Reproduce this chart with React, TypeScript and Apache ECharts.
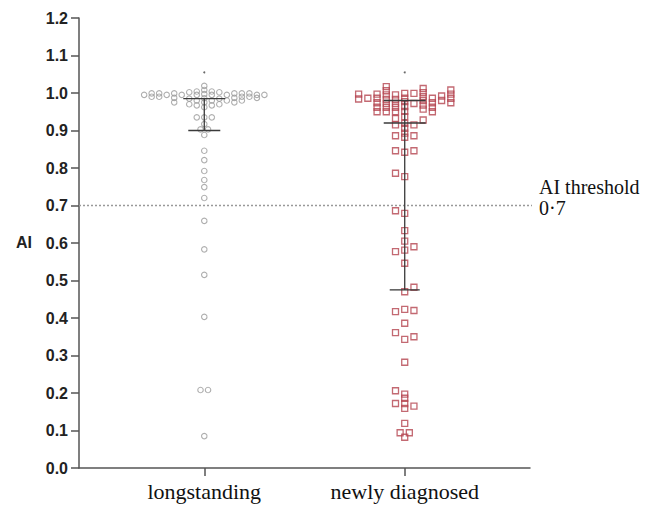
import React, { useEffect, useRef } from "react";
import * as echarts from "echarts";

// ---- data ----
const categories = ["longstanding", "newly diagnosed"];
const categoryPositions = [1, 2.6];
const yTicks = [0, 0.1, 0.2, 0.3, 0.4, 0.5, 0.6, 0.7, 0.8, 0.9, 1.0, 1.1, 1.2];
const threshold = 0.7;

// [lane, AI] : lane = horizontal beeswarm slot
const longstandingPoints: [number, number][] = [
  [0, 1.019], [0, 1.008], [0, 0.997], [0, 0.986], [0, 0.975], [0, 0.962], [0, 0.935], [0, 0.917], [0, 0.888],
  [-1, 1.004], [-1, 0.995], [-1, 0.98], [-1, 0.967], [-1, 0.935],
  [1, 1.004], [1, 0.995], [1, 0.98], [1, 0.967], [1, 0.935],
  [-2, 1.002], [-2, 0.985], [-2, 0.97],
  [2, 1.002], [2, 0.985], [2, 0.97],
  [-3, 0.995], [3, 0.995], [3, 0.98],
  [-4, 0.999], [-4, 0.987], [-4, 0.975],
  [4, 0.999], [4, 0.987], [4, 0.975],
  [-5, 0.995], [5, 0.999], [5, 0.99], [5, 0.98],
  [-6, 0.999], [-6, 0.99], [6, 0.999], [6, 0.99],
  [-7, 0.999], [-7, 0.99], [7, 0.995], [7, 0.987],
  [-8, 0.995], [8, 0.995],
  [-0.5, 0.903], [0.5, 0.903],
  [0, 0.846], [0, 0.821], [0, 0.792], [0, 0.768], [0, 0.749], [0, 0.72],
  [0, 0.659], [0, 0.583], [0, 0.515], [0, 0.403],
  [-0.5, 0.208], [0.5, 0.208], [0, 0.085],
];

const newlyPoints: [number, number][] = [
  [-5, 0.997], [-5, 0.984],
  [-4, 0.986],
  [-3, 0.997], [-3, 0.986], [-3, 0.974], [-3, 0.962], [-3, 0.95],
  [-2, 1.017], [-2, 1.006], [-2, 0.995], [-2, 0.983], [-2, 0.972], [-2, 0.962], [-2, 0.95],
  [-1, 0.995], [-1, 0.983], [-1, 0.972], [-1, 0.962], [-1, 0.95], [-1, 0.932], [-1, 0.915],
  [-1, 0.886], [-1, 0.846], [-1, 0.786], [-1, 0.686], [-1, 0.577], [-1, 0.417], [-1, 0.361],
  [-1, 0.206], [-1, 0.172],
  [0, 0.999], [0, 0.986], [0, 0.977], [0, 0.964], [0, 0.951], [0, 0.937], [0, 0.919], [0, 0.906],
  [0, 0.893], [0, 0.882], [0, 0.842], [0, 0.777], [0, 0.679], [0, 0.633], [0, 0.605], [0, 0.581],
  [0, 0.546], [0, 0.47], [0, 0.423], [0, 0.386], [0, 0.343], [0, 0.282], [0, 0.197], [0, 0.186],
  [0, 0.172], [0, 0.159], [0, 0.119], [0, 0.082],
  [1, 0.999], [1, 0.972], [1, 0.915], [1, 0.886], [1, 0.846], [1, 0.59], [1, 0.482], [1, 0.42],
  [1, 0.35], [1, 0.165],
  [2, 1.012], [2, 1.001], [2, 0.99], [2, 0.98], [2, 0.968], [2, 0.957], [2, 0.928],
  [3, 0.986], [3, 0.974], [3, 0.962], [3, 0.95],
  [4, 0.992], [4, 0.98],
  [5, 1.008], [5, 0.997], [5, 0.986], [5, 0.974],
  [-0.5, 0.094], [0.5, 0.094],
];

// summary lines (quartile / median marks)
const longstandingSummary = [0.9, 0.985];
const newlySummary = [0.475, 0.92, 0.98];
const topMarks = [1.055, 1.055];

export default function App() {
  const ref = useRef<HTMLDivElement>(null);

  useEffect(() => {
    if (!ref.current) return;
    const chart = echarts.init(ref.current, null, { renderer: "svg" });

    const lsLane = 0.06;
    const nwLane = 0.0736;
    const lsData = longstandingPoints.map(([l, v]) => [categoryPositions[0] + l * lsLane, v]);
    const nwData = newlyPoints.map(([l, v]) => [categoryPositions[1] + l * nwLane, v]);
    const summaries = [longstandingSummary, newlySummary];
    const capHalf = [
      [16, 21],
      [15, 21, 21],
    ];
    const serif = "'Liberation Serif', 'Times New Roman', serif";
    const sans = "'Liberation Sans', Arial, sans-serif";

    const option: any = {
      animation: false,
      grid: { left: 79, right: 118, top: 18, bottom: 39, outerBoundsMode: "none" },
      xAxis: {
        type: "value",
        min: 0,
        max: 3.6,
        splitLine: { show: false },
        axisLine: { show: true, lineStyle: { color: "#555", width: 1.5 } },
        axisTick: { show: true, customValues: categoryPositions, length: 8, lineStyle: { color: "#555", width: 1.5 } },
        axisLabel: {
          customValues: categoryPositions,
          formatter: (v: number) => {
            const i = categoryPositions.findIndex((p) => Math.abs(p - v) < 1e-6);
            return i >= 0 ? categories[i] : "";
          },
          fontFamily: serif,
          fontSize: 22,
          color: "#111",
          margin: 12,
        },
      },
      yAxis: {
        type: "value",
        min: 0,
        max: 1.2,
        interval: 0.1,
        splitLine: { show: false },
        axisLine: { show: true, lineStyle: { color: "#555", width: 1.5 } },
        axisTick: { show: true, length: 8, lineStyle: { color: "#555", width: 1.5 } },
        axisLabel: {
          formatter: (v: number) => {
            const t = yTicks.find((y) => Math.abs(y - v) < 1e-6);
            return t === undefined ? "" : t.toFixed(1);
          },
          fontFamily: sans,
          fontWeight: "bold",
          fontSize: 16,
          color: "#222",
          margin: 11,
        },
      },
      graphic: [
        {
          type: "text",
          left: 16,
          top: 234,
          style: { text: "AI", fontFamily: sans, fontWeight: "bold", fontSize: 16, fill: "#222" },
        },
        {
          type: "text",
          left: 539,
          top: 177,
          style: { text: "AI threshold", fontFamily: serif, fontSize: 20, fill: "#111" },
        },
        {
          type: "text",
          left: 539,
          top: 198,
          style: { text: "0·7", fontFamily: serif, fontSize: 20, fill: "#111" },
        },
      ],
      series: [
        {
          type: "line",
          data: [
            [0, threshold],
            [3.62, threshold],
          ],
          symbol: "none",
          lineStyle: { color: "#999", width: 1.3, type: [2, 2] },
          silent: true,
          z: 1,
        },
        {
          type: "scatter",
          data: lsData,
          symbol: "circle",
          symbolSize: 5.5,
          itemStyle: { color: "rgba(255,255,255,0)", borderColor: "#9a9a9a", borderWidth: 1.1 },
          z: 3,
        },
        {
          type: "scatter",
          data: nwData,
          symbol: "rect",
          symbolSize: 6,
          itemStyle: { color: "rgba(255,255,255,0)", borderColor: "#b4434f", borderWidth: 1.3 },
          z: 3,
        },
        {
          type: "scatter",
          data: topMarks.map((v, i) => [categoryPositions[i], v]),
          symbol: "circle",
          symbolSize: 2,
          itemStyle: { color: "#444" },
          z: 3,
        },
        {
          type: "custom",
          data: categoryPositions.map((p, i) => [p, Math.min(...summaries[i]), Math.max(...summaries[i])]),
          encode: { x: 0, y: [1, 2] },
          z: 4,
          renderItem: (params: any, api: any) => {
            const idx = params.dataIndex;
            const x = api.value(0);
            const vals = summaries[idx];
            const top = api.coord([x, Math.max(...vals)]);
            const bot = api.coord([x, Math.min(...vals)]);
            const style = { stroke: "#3a3a3a", lineWidth: 1.3 };
            const children: any[] = [
              { type: "line", shape: { x1: top[0], y1: top[1], x2: bot[0], y2: bot[1] }, style },
            ];
            vals.forEach((v, j) => {
              const p = api.coord([x, v]);
              const hw = capHalf[idx][j];
              children.push({ type: "line", shape: { x1: p[0] - hw, y1: p[1], x2: p[0] + hw, y2: p[1] }, style });
            });
            return { type: "group", children };
          },
        },
      ],
    };

    chart.setOption(option);
    return () => chart.dispose();
  }, []);

  return (
    <div
      ref={ref}
      style={{ position: "fixed", left: 0, top: 0, width: 648, height: 507, background: "#fff" }}
    />
  );
}
